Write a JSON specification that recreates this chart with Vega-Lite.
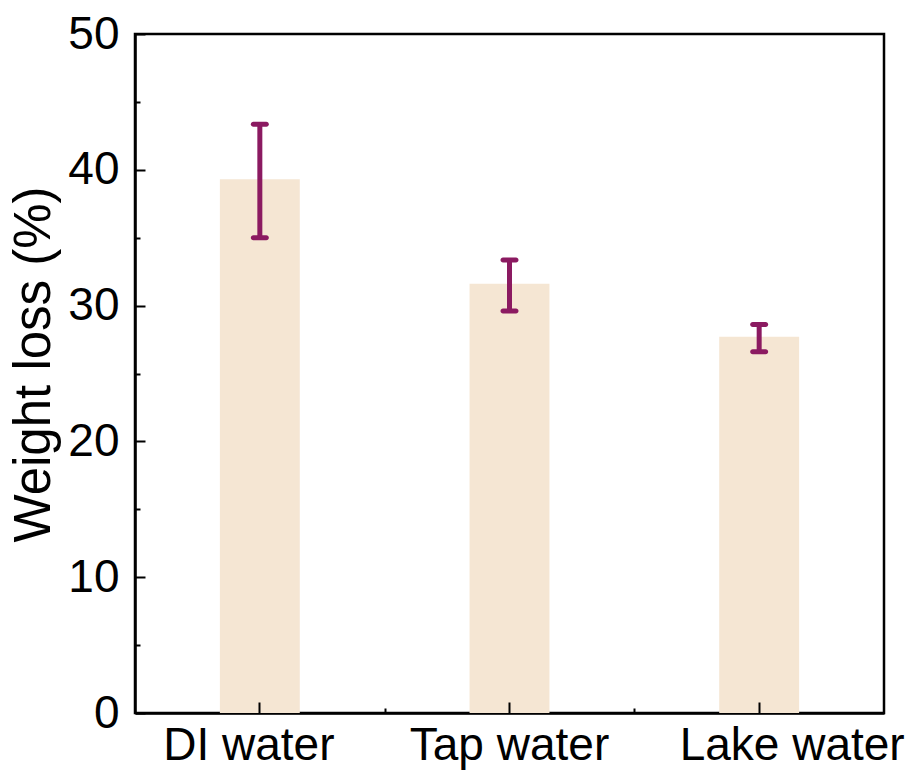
{
  "$schema": "https://vega.github.io/schema/vega-lite/v6.json",
  "width": 749,
  "height": 679,
  "autosize": {"type": "none"},
  "padding": {"left": 135, "top": 34, "right": 33, "bottom": 57},
  "background": "white",
  "config": {
    "view": {"stroke": "black", "strokeWidth": 2.5},
    "font": "Liberation Sans",
    "axis": {"domainColor": "black", "domainWidth": 2.5, "tickColor": "black", "tickWidth": 2, "grid": false, "labelColor": "black", "titleColor": "black", "labelFont": "Liberation Sans", "titleFont": "Liberation Sans", "labelLimit": 0}
  },
  "data": {
    "values": [
      {"cat": "DI water", "mean": 39.3, "lo": 35.0, "hi": 43.35},
      {"cat": "Tap water", "mean": 31.6, "lo": 29.6, "hi": 33.35},
      {"cat": "Lake water", "mean": 27.7, "lo": 26.6, "hi": 28.6}
    ]
  },
  "resolve": {"axis": {"x": "independent", "y": "independent"}},
  "layer": [
    {
      "mark": {"type": "bar", "color": "#F5E6D3"},
      "encoding": {
        "x": {"field": "cat", "type": "nominal", "sort": null,
          "scale": {"paddingInner": 0.68, "paddingOuter": 0.34},
          "axis": {"orient": "bottom", "title": null, "ticks": false, "domain": true, "labelAngle": 0, "labelFontSize": 46, "labelPadding": 10,
            "labelOffset": {"condition": [{"test": "datum.value === 'DI water'", "value": -11}, {"test": "datum.value === 'Lake water'", "value": 33}], "value": 0}}},
        "y": {"field": "mean", "type": "quantitative",
          "scale": {"domain": [0, 50], "nice": false, "zero": true},
          "axis": {"orient": "left", "values": [0, 10, 20, 30, 40, 50], "ticks": false, "title": "Weight loss (%)", "titleFontSize": 51, "titleFontWeight": "normal", "labelFontSize": 46, "labelPadding": 16, "titleAngle": -90, "titleX": -86, "titleY": 330, "titleAlign": "center", "titleBaseline": "alphabetic"}}
      }
    },
    {
      "mark": {"type": "rule", "color": "#8B1A61", "strokeWidth": 5},
      "encoding": {
        "x": {"field": "cat", "type": "nominal", "sort": null,
          "axis": {"orient": "bottom", "title": null, "labels": false, "domain": false, "ticks": true, "tickSize": -11, "zindex": 1}},
        "y": {"field": "lo", "type": "quantitative",
          "axis": {"orient": "left", "title": null, "labels": false, "domain": false, "ticks": true, "tickSize": -10, "values": [0, 10, 20, 30, 40, 50], "zindex": 1}},
        "y2": {"field": "hi"}
      }
    },
    {
      "mark": {"type": "tick", "color": "#8B1A61", "opacity": 1, "size": 18, "thickness": 5, "orient": "horizontal", "cornerRadius": 2.5},
      "encoding": {
        "x": {"field": "cat", "type": "nominal", "sort": null,
          "axis": {"orient": "bottom", "title": null, "labels": false, "domain": false, "ticks": true, "tickSize": -5, "values": ["Tap water", "Lake water"], "tickOffset": -125, "zindex": 1}},
        "y": {"field": "hi", "type": "quantitative",
          "axis": {"orient": "left", "title": null, "labels": false, "domain": false, "ticks": true, "tickSize": -5, "values": [5, 15, 25, 35, 45], "zindex": 1}}
      }
    },
    {
      "mark": {"type": "tick", "color": "#8B1A61", "opacity": 1, "size": 18, "thickness": 5, "orient": "horizontal", "cornerRadius": 2.5},
      "encoding": {
        "x": {"field": "cat", "type": "nominal", "sort": null, "axis": null},
        "y": {"field": "lo", "type": "quantitative", "axis": null}
      }
    }
  ]
}
